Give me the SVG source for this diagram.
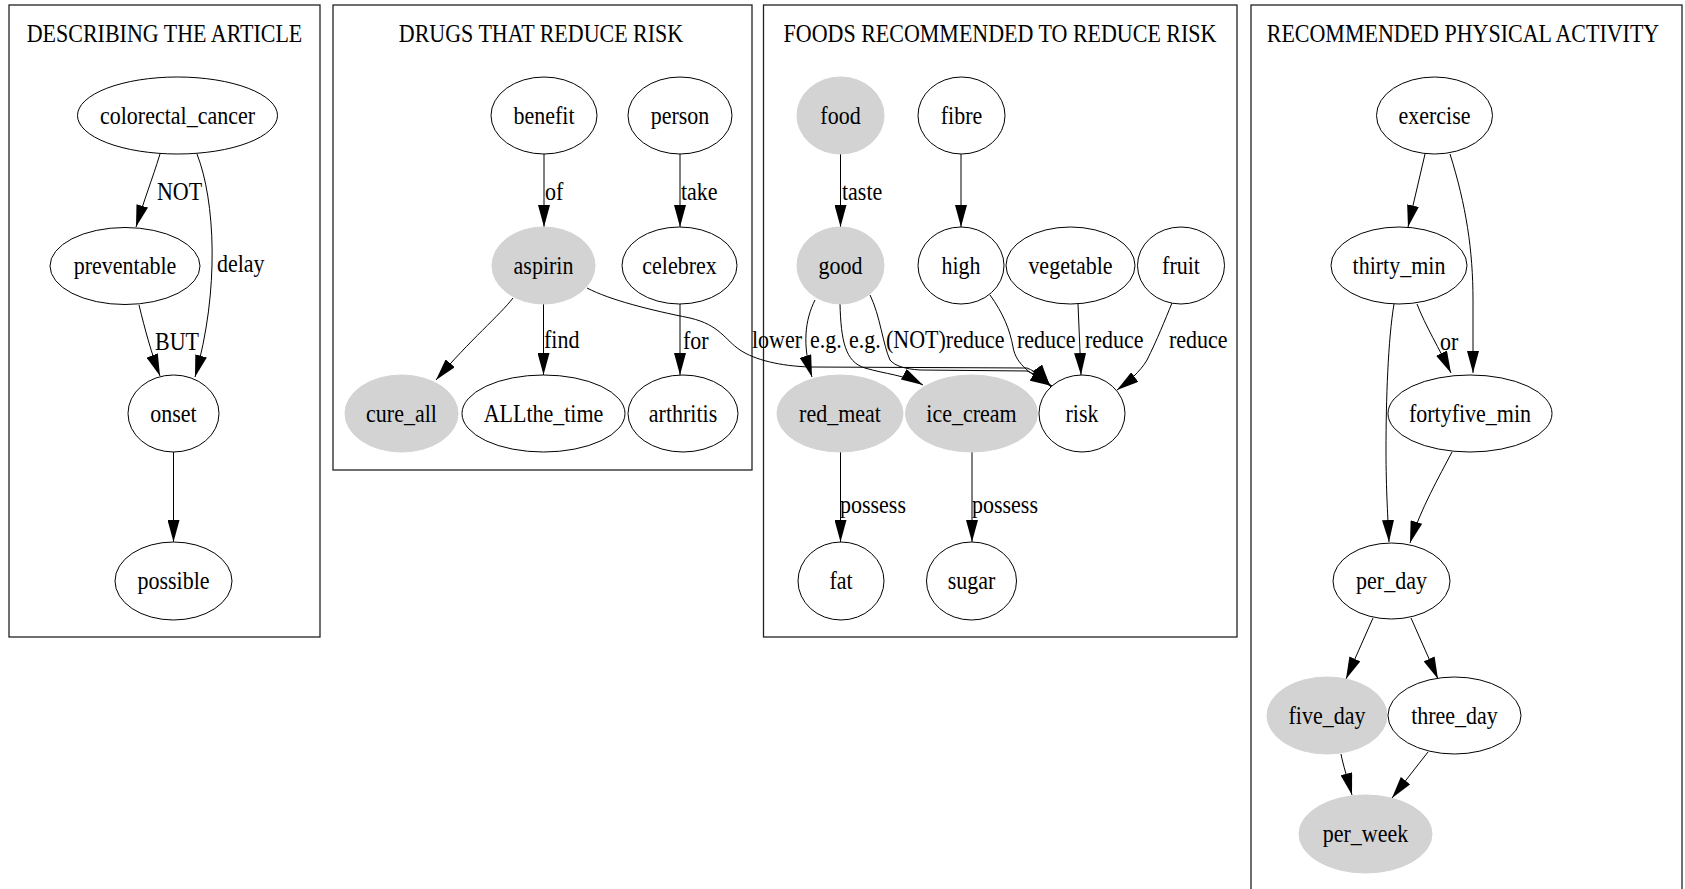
<svg xmlns="http://www.w3.org/2000/svg" width="1685" height="889" viewBox="0 0 1685 889">
<defs>
<style>
text { font-family: "Liberation Serif", "Times New Roman", serif; font-size: 22px; fill: #000; transform-box: fill-box; transform-origin: center; transform: scaleY(1.18); }
.n { text-anchor: middle; }
.ttl { text-anchor: middle; }
.lbl { text-anchor: start; }
.box { fill: none; stroke: #222; stroke-width: 1.3; }
.node ellipse { fill: #fff; stroke: #000; stroke-width: 1; }
.node.g ellipse { fill: #d3d3d3; stroke: #d3d3d3; }
.edge { fill: none; stroke: #000; stroke-width: 1; marker-end: url(#arr); }
</style>
<marker id="arr" markerUnits="userSpaceOnUse" markerWidth="22" markerHeight="12" refX="22" refY="6" orient="auto" viewBox="0 0 22 12">
<path d="M0,0 L22,6 L0,12 Z" fill="#000"/>
</marker>
</defs>
<rect width="1685" height="889" fill="#fff"/>

<g id="clusters">
<rect class="box" x="9" y="5" width="311" height="632"/>
<text class="ttl" x="164.5" y="40.7">DESCRIBING THE ARTICLE</text>
<rect class="box" x="333" y="5" width="419" height="465"/>
<text class="ttl" x="541" y="40.7">DRUGS THAT REDUCE RISK</text>
<rect class="box" x="763.5" y="5" width="473.5" height="632"/>
<text class="ttl" x="1000" y="40.7">FOODS RECOMMENDED TO REDUCE RISK</text>
<rect class="box" x="1251" y="5" width="431" height="900"/>
<text class="ttl" x="1463" y="40.7">RECOMMENDED PHYSICAL ACTIVITY</text>
</g>

<g id="connectors">
<path class="edge" d="M160,154 C152,180 144,200 136,227"/>
<text class="lbl" x="157" y="198.7">NOT</text>
<path class="edge" d="M197,154 C215,200 220,290 195,377"/>
<text class="lbl" x="217" y="270.7">delay</text>
<path class="edge" d="M139,305 C145,330 152,355 160,376"/>
<text class="lbl" x="155" y="348.7">BUT</text>
<path class="edge" d="M173.5,452 L173.5,542"/>

<path class="edge" d="M544,154 L544,227"/>
<text class="lbl" x="545" y="198.7">of</text>
<path class="edge" d="M680,154 L680,227"/>
<text class="lbl" x="681" y="198.7">take</text>
<path class="edge" d="M513,298 C500,315 470,340 436,380"/>
<path class="edge" d="M543.5,304 L543.5,375"/>
<text class="lbl" x="544" y="346.7">find</text>
<path class="edge" d="M680,304 L680,375"/>
<text class="lbl" x="683" y="347.7">for</text>
<path class="edge" d="M587,288 C610,300 650,310 690,318 C720,325 725,340 740,350 C755,360 780,366 810,367 L1027,368 C1037,372 1045,379 1050,386"/>
<text class="lbl" x="752" y="346.7">lower</text>

<path class="edge" d="M840.5,154 L840.5,227"/>
<text class="lbl" x="842" y="198.7">taste</text>
<path class="edge" d="M961,154 L961,227"/>
<path class="edge" d="M815,300 C805,320 802,345 812,377"/>
<text class="lbl" x="810" y="346.7">e.g.</text>
<path class="edge" d="M840,304 C841,340 845,362 865,368 C885,374 905,375 923,385"/>
<text class="lbl" x="849" y="346.7">e.g.</text>
<path class="edge" d="M870,295 C880,315 883,345 890,360 C895,366 905,369 920,370 L1027,371 C1037,375 1045,380 1051,387"/>
<text class="lbl" x="886" y="346.7">(NOT)reduce</text>
<path class="edge" d="M990,295 C1003,313 1010,330 1013,347 C1016,365 1032,375 1052,386"/>
<text class="lbl" x="1017" y="346.7">reduce</text>
<path class="edge" d="M1078,304 L1081,375"/>
<text class="lbl" x="1085" y="346.7">reduce</text>
<path class="edge" d="M1172,303 C1165,320 1157,340 1147,360 C1140,372 1128,382 1117,390"/>
<text class="lbl" x="1169" y="346.7">reduce</text>
<path class="edge" d="M840.5,452 L840.5,542"/>
<text class="lbl" x="840" y="511.7">possess</text>
<path class="edge" d="M972,452 L972,542"/>
<text class="lbl" x="972" y="511.7">possess</text>

<path class="edge" d="M1425,154 L1408,227"/>
<path class="edge" d="M1450,154 C1466,205 1473,250 1473,300 L1473,373"/>
<path class="edge" d="M1417,304 C1425,325 1440,350 1451,373"/>
<text class="lbl" x="1440" y="348.7">or</text>
<path class="edge" d="M1394,304 C1388,340 1386,400 1386,450 C1386,490 1388,520 1389,542"/>
<path class="edge" d="M1452,452 C1440,475 1420,510 1410,543"/>
<path class="edge" d="M1373,618 L1346,679"/>
<path class="edge" d="M1411,618 L1438,679"/>
<path class="edge" d="M1341,754 C1343,765 1348,780 1352,795"/>
<path class="edge" d="M1428,752 L1392,798"/>
</g>

<g id="colorectal_cancer" class="node"><ellipse cx="177.5" cy="115.5" rx="100" ry="38.5"/><text class="n" x="177.5" y="122.5">colorectal_cancer</text></g>
<g id="preventable" class="node"><ellipse cx="125" cy="266" rx="75" ry="38.5"/><text class="n" x="125" y="273">preventable</text></g>
<g id="onset" class="node"><ellipse cx="173.5" cy="413.5" rx="45.5" ry="38.5"/><text class="n" x="173.5" y="420.5">onset</text></g>
<g id="possible" class="node"><ellipse cx="173.5" cy="581" rx="58.5" ry="39"/><text class="n" x="173.5" y="588">possible</text></g>

<g id="benefit" class="node"><ellipse cx="544" cy="115.5" rx="53" ry="38.5"/><text class="n" x="544" y="122.5">benefit</text></g>
<g id="person" class="node"><ellipse cx="680" cy="115.5" rx="52" ry="38.5"/><text class="n" x="680" y="122.5">person</text></g>
<g id="aspirin" class="node g"><ellipse cx="543.5" cy="265.5" rx="51.5" ry="38.5"/><text class="n" x="543.5" y="272.5">aspirin</text></g>
<g id="celebrex" class="node"><ellipse cx="679.5" cy="265.5" rx="57.5" ry="38.5"/><text class="n" x="679.5" y="272.5">celebrex</text></g>
<g id="cure_all" class="node g"><ellipse cx="401.5" cy="413.5" rx="56.5" ry="38.5"/><text class="n" x="401.5" y="420.5">cure_all</text></g>
<g id="ALLthe_time" class="node"><ellipse cx="543.5" cy="413.5" rx="81.5" ry="38.5"/><text class="n" x="543.5" y="420.5">ALLthe_time</text></g>
<g id="arthritis" class="node"><ellipse cx="683" cy="413.5" rx="55" ry="38.5"/><text class="n" x="683" y="420.5">arthritis</text></g>

<g id="food" class="node g"><ellipse cx="840.5" cy="115.5" rx="43.5" ry="38.5"/><text class="n" x="840.5" y="122.5">food</text></g>
<g id="fibre" class="node"><ellipse cx="961.5" cy="115.5" rx="43.5" ry="38.5"/><text class="n" x="961.5" y="122.5">fibre</text></g>
<g id="good" class="node g"><ellipse cx="840.5" cy="265.5" rx="43.5" ry="38.5"/><text class="n" x="840.5" y="272.5">good</text></g>
<g id="high" class="node"><ellipse cx="961" cy="265.5" rx="43" ry="38.5"/><text class="n" x="961" y="272.5">high</text></g>
<g id="vegetable" class="node"><ellipse cx="1070.5" cy="265.5" rx="64.5" ry="38.5"/><text class="n" x="1070.5" y="272.5">vegetable</text></g>
<g id="fruit" class="node"><ellipse cx="1181" cy="265.5" rx="43.5" ry="38.5"/><text class="n" x="1181" y="272.5">fruit</text></g>
<g id="red_meat" class="node g"><ellipse cx="840" cy="413.5" rx="63" ry="38.5"/><text class="n" x="840" y="420.5">red_meat</text></g>
<g id="ice_cream" class="node g"><ellipse cx="971.5" cy="413.5" rx="66" ry="38.5"/><text class="n" x="971.5" y="420.5">ice_cream</text></g>
<g id="risk" class="node"><ellipse cx="1082" cy="413.5" rx="43" ry="38.5"/><text class="n" x="1082" y="420.5">risk</text></g>
<g id="fat" class="node"><ellipse cx="841" cy="581" rx="43" ry="39"/><text class="n" x="841" y="588">fat</text></g>
<g id="sugar" class="node"><ellipse cx="971.5" cy="581" rx="45" ry="39"/><text class="n" x="971.5" y="588">sugar</text></g>

<g id="exercise" class="node"><ellipse cx="1434.5" cy="115.5" rx="58" ry="38.5"/><text class="n" x="1434.5" y="122.5">exercise</text></g>
<g id="thirty_min" class="node"><ellipse cx="1399" cy="265.5" rx="68" ry="38.5"/><text class="n" x="1399" y="272.5">thirty_min</text></g>
<g id="fortyfive_min" class="node"><ellipse cx="1470" cy="413.5" rx="82" ry="38.5"/><text class="n" x="1470" y="420.5">fortyfive_min</text></g>
<g id="per_day" class="node"><ellipse cx="1391.5" cy="581" rx="58.5" ry="38"/><text class="n" x="1391.5" y="588">per_day</text></g>
<g id="five_day" class="node g"><ellipse cx="1327" cy="715.5" rx="60" ry="38.5"/><text class="n" x="1327" y="722.5">five_day</text></g>
<g id="three_day" class="node"><ellipse cx="1454.5" cy="715.5" rx="66.5" ry="38.5"/><text class="n" x="1454.5" y="722.5">three_day</text></g>
<g id="per_week" class="node g"><ellipse cx="1365.5" cy="834" rx="66.5" ry="39"/><text class="n" x="1365.5" y="841">per_week</text></g>
</svg>
